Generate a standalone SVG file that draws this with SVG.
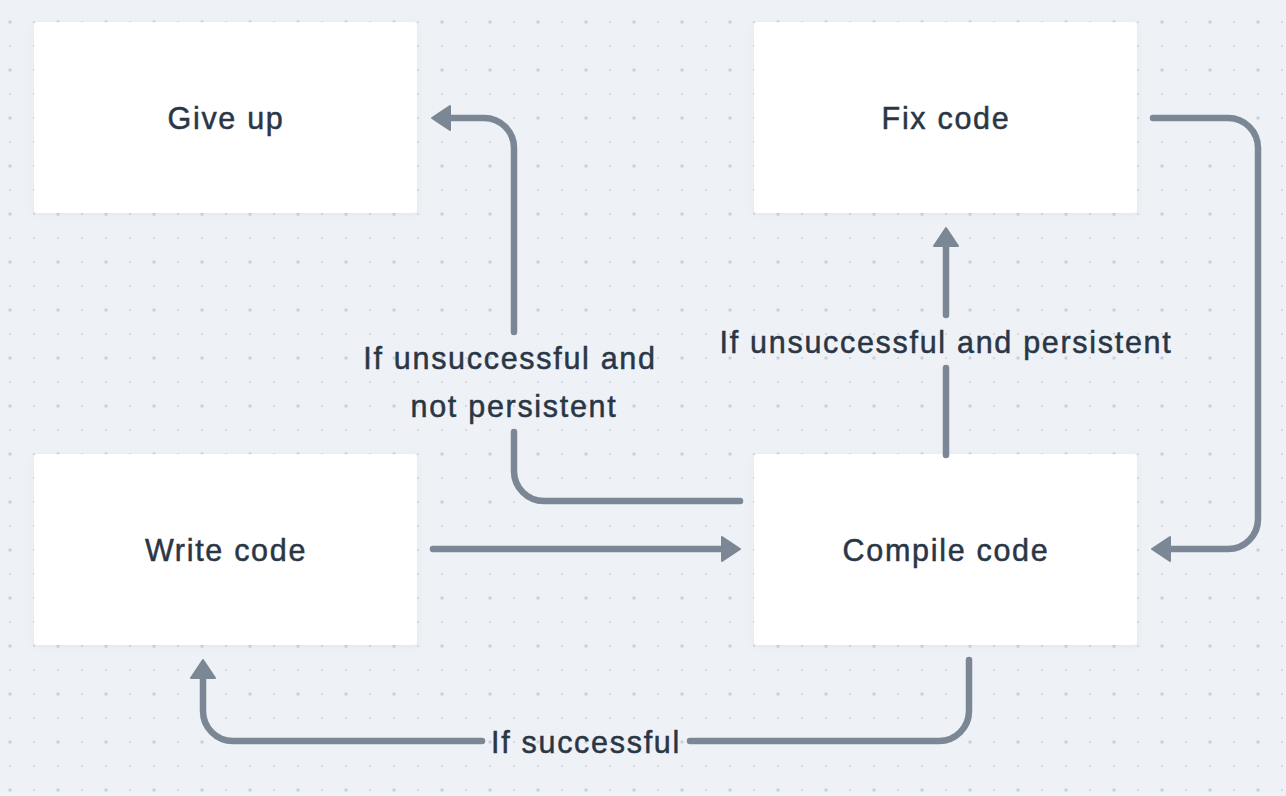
<svg xmlns="http://www.w3.org/2000/svg" width="1286" height="796" viewBox="0 0 1286 796">
<defs>
<pattern id="dots" patternUnits="userSpaceOnUse" x="-2" y="10" width="48" height="48">
<circle cx="12" cy="12" r="1.7" fill="#c9d0da"/>
<circle cx="36" cy="12" r="1.1" fill="#ccd2db"/>
<circle cx="12" cy="36" r="1.1" fill="#ccd2db"/>
<circle cx="36" cy="36" r="1.1" fill="#ccd2db"/>
</pattern>
<filter id="sh" x="-10%" y="-10%" width="120%" height="130%">
<feDropShadow dx="0" dy="2" stdDeviation="4" flood-color="#8a99ad" flood-opacity="0.12"/>
</filter>
</defs>
<style>
.box{fill:#ffffff;filter:url(#sh)}
.t{font-family:"Liberation Sans",Arial,sans-serif;font-size:30.5px;fill:#2a3645;stroke:#2a3645;stroke-width:0.5px;text-anchor:middle;letter-spacing:1.7px}
.ln{fill:none;stroke:#7b8794;stroke-width:6.5;stroke-linecap:round;stroke-linejoin:round}
.ah{fill:#7b8794;stroke:#7b8794;stroke-width:2;stroke-linejoin:round}
</style>
<rect width="1286" height="796" fill="#eef2f6"/>
<rect width="1286" height="796" fill="url(#dots)"/>

<g id="give-up">
<rect class="box" x="34" y="22" width="383" height="191" rx="4"/>
<text class="t" x="226" y="129">Give up</text>
</g>
<g id="fix-code">
<rect class="box" x="754" y="22" width="383" height="191" rx="4"/>
<text class="t" x="946" y="129">Fix code</text>
</g>
<g id="write-code">
<rect class="box" x="34" y="454" width="383" height="191" rx="4"/>
<text class="t" x="226" y="561">Write code</text>
</g>
<g id="compile-code">
<rect class="box" x="754" y="454" width="383" height="191" rx="4"/>
<text class="t" x="946" y="561">Compile code</text>
</g>

<g id="connectors">
<g id="write-to-compile">
<path class="ln" d="M433 549 H724"/>
<polygon class="ah" points="740,549 722,537 722,561"/>
</g>
<g id="compile-to-write">
<path class="ln" d="M969 660 V711 A30 30 0 0 1 939 741 H690"/>
<path class="ln" d="M482 741 H233 A30 30 0 0 1 203 711 V676"/>
<polygon class="ah" points="203,660 191,678 215,678"/>
<text class="t" x="586" y="753">If successful</text>
</g>
<g id="fix-to-compile">
<path class="ln" d="M1153 118 H1228 A30 30 0 0 1 1258 148 V519 A30 30 0 0 1 1228 549 H1168"/>
<polygon class="ah" points="1152,549 1170,537 1170,561"/>
</g>
<g id="compile-to-fix">
<path class="ln" d="M946 455 V368"/>
<path class="ln" d="M946 315 V244"/>
<polygon class="ah" points="946,228 934,246 958,246"/>
<text class="t" x="946" y="353">If unsuccessful and persistent</text>
</g>
<g id="compile-to-giveup">
<path class="ln" d="M740 501 H544 A30 30 0 0 1 514 471 V432"/>
<path class="ln" d="M514 332 V148 A30 30 0 0 0 484 118 H448"/>
<polygon class="ah" points="432,118 450,106 450,130"/>
<text class="t" x="510" y="369">If unsuccessful and</text>
<text class="t" x="514" y="417">not persistent</text>
</g>
</g>
</svg>
